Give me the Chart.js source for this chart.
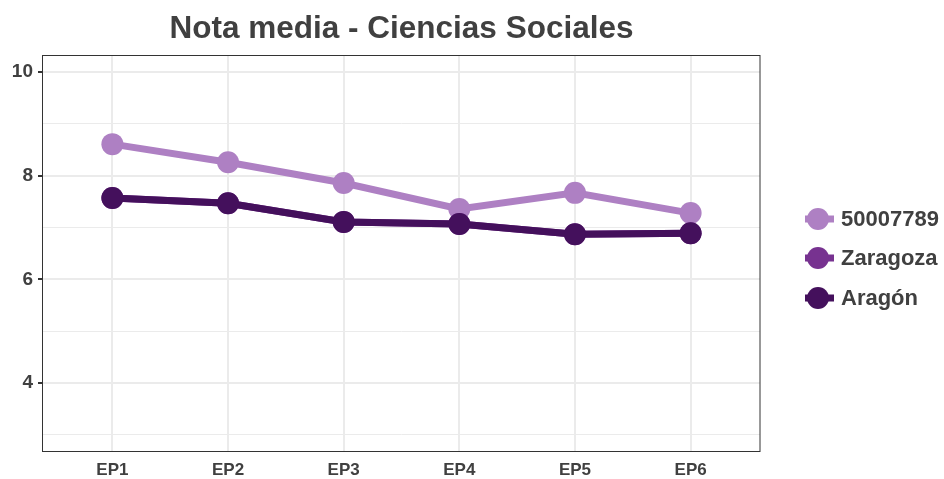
<!DOCTYPE html>
<html>
<head>
<meta charset="utf-8">
<script src="https://cdn.jsdelivr.net/npm/chart.js@4/dist/chart.umd.min.js"></script>
<style>
html,body{margin:0;padding:0;background:#fff;}
#wrap{width:944px;height:479px;position:relative;}
</style>
</head>
<body>
<div id="wrap"><canvas id="c" width="944" height="479"></canvas></div>
<script>
const TITLE = "Nota media - Ciencias Sociales";
const categories = ["EP1","EP2","EP3","EP4","EP5","EP6"];
const seriesNames = ["50007789","Zaragoza","Aragón"];
const centro = [8.61, 8.26, 7.86, 7.36, 7.67, 7.28];
const zaragoza = [7.57, 7.47, 7.11, 7.07, 6.87, 6.89];
const aragon = [7.57, 7.47, 7.11, 7.07, 6.87, 6.89];
const yTicks = [3,4,5,6,7,8,9,10];
const yLabeled = [4,6,8,10];
const colors = ["#ae80c3","#773290","#44105c"];

const seriesValues = [centro, zaragoza, aragon];
const FONT = "'Liberation Sans', Arial, Helvetica, sans-serif";
const TEXT = "#404040";

const datasets = seriesValues.map((vals, i) => ({
  label: seriesNames[i],
  data: vals.map((v, j) => ({x: j + 1, y: v})),
  borderColor: colors[i],
  backgroundColor: colors[i],
  pointBackgroundColor: colors[i],
  pointBorderColor: colors[i],
  borderWidth: 7,
  pointRadius: 11,
  pointBorderWidth: 0,
  tension: 0,
  order: 3 - i
}));

const decorPlugin = {
  id: 'decor',
  afterDraw(chart) {
    const ctx = chart.ctx;
    const a = chart.chartArea;
    ctx.save();
    // panel border
    ctx.strokeStyle = "#333333";
    ctx.lineWidth = 1;
    ctx.strokeRect(Math.round(a.left) - 0.5, Math.round(a.top) + 0.5, Math.round(a.right - a.left) + 0.5, Math.round(a.bottom - a.top));
    // title
    ctx.fillStyle = TEXT;
    ctx.font = "bold 31.5px " + FONT;
    ctx.textAlign = "center";
    ctx.textBaseline = "middle";
    ctx.fillText(TITLE, (a.left + a.right) / 2, 29);
    // legend
    const ys = [219, 258, 298];
    ctx.textAlign = "left";
    ctx.font = "bold 22px " + FONT;
    seriesNames.forEach((name, i) => {
      const y = ys[i];
      ctx.strokeStyle = colors[i];
      ctx.lineWidth = 7;
      ctx.beginPath();
      ctx.moveTo(805, y);
      ctx.lineTo(834, y);
      ctx.stroke();
      ctx.fillStyle = colors[i];
      ctx.beginPath();
      ctx.arc(818, y, 11, 0, Math.PI * 2);
      ctx.fill();
      ctx.fillStyle = TEXT;
      ctx.fillText(name, 841, y + 1);
    });
    ctx.restore();
  }
};

new Chart(document.getElementById('c'), {
  type: 'line',
  data: { datasets },
  options: {
    responsive: false,
    animation: false,
    layout: { padding: { top: 55, right: 184, left: 0, bottom: 0 } },
    plugins: { legend: { display: false }, tooltip: { enabled: false }, title: { display: false } },
    scales: {
      x: {
        type: 'linear',
        min: 0.4,
        max: 6.6,
        afterBuildTicks(scale) { scale.ticks = categories.map((c, i) => ({ value: i + 1 })); },
        afterFit(scale) { scale.height = 28; },
        grid: { color: "#ebebeb", lineWidth: 2, drawTicks: false },
        border: { display: false },
        ticks: {
          padding: 9,
          color: TEXT,
          font: { family: FONT, size: 17, weight: 'bold' },
          callback: (v) => categories[Math.round(v) - 1]
        }
      },
      y: {
        type: 'linear',
        min: 2.69,
        max: 10.33,
        afterBuildTicks(scale) { scale.ticks = yTicks.map(v => ({ value: v })); },
        afterFit(scale) { scale.width = 43; },
        grid: {
          color: "#ebebeb",
          lineWidth: (c) => (c.tick && yLabeled.includes(c.tick.value)) ? 2 : 1,
          tickColor: (c) => (c.tick && yLabeled.includes(c.tick.value)) ? "#333333" : "rgba(0,0,0,0)",
          tickLength: 5,
          drawTicks: true
        },
        border: { display: false },
        ticks: {
          padding: 5,
          color: TEXT,
          font: { family: FONT, size: 19, weight: 'bold' },
          callback: (v) => yLabeled.includes(v) ? String(v) : ''
        }
      }
    }
  },
  plugins: [decorPlugin]
});
</script>
</body>
</html>
